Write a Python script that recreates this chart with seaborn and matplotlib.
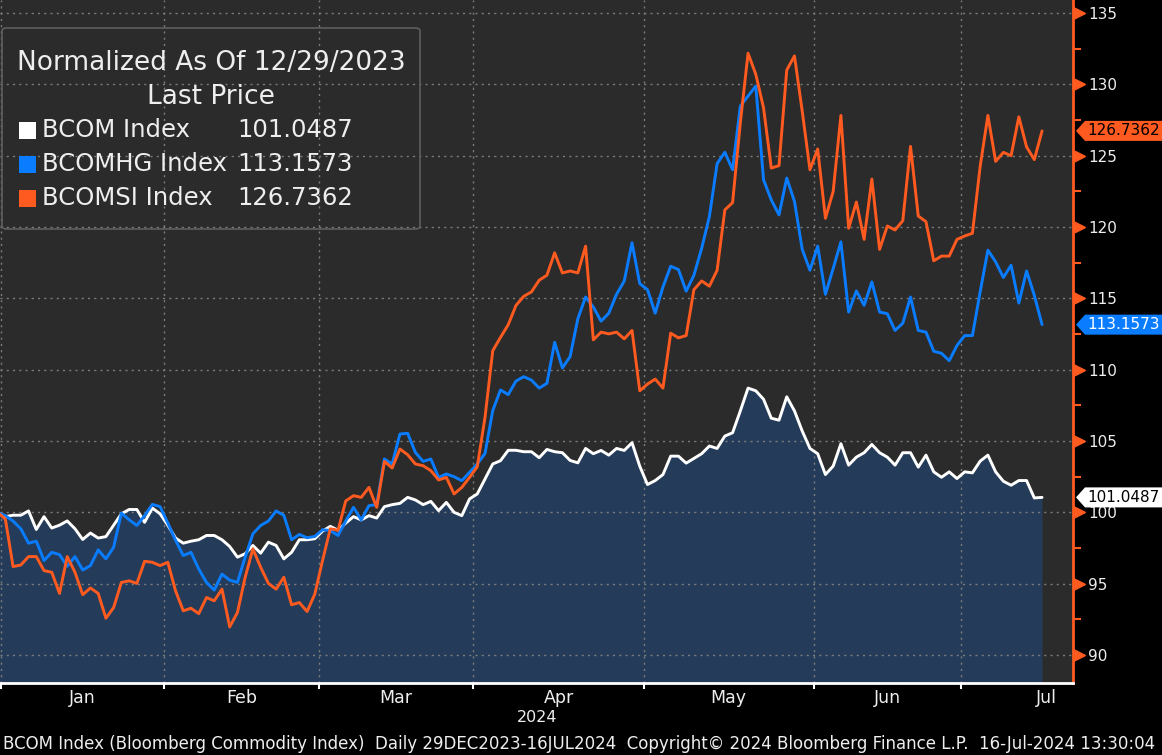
# ==========================================
# BCOM vs BCOMHG vs BCOMSI (normalized)
# ==========================================

import numpy as np
import pandas as pd
import matplotlib
matplotlib.use("Agg")
import matplotlib.pyplot as plt
import matplotlib.transforms as mtransforms
from matplotlib.patches import Polygon, FancyBboxPatch, Rectangle
import seaborn as sns

# ==========================================
# DATA
# ==========================================

holidays = ["2024-01-01", "2024-01-15", "2024-02-19", "2024-03-29",
            "2024-05-27", "2024-06-19", "2024-07-04"]
dates = pd.bdate_range("2023-12-29", "2024-07-16", freq="C", holidays=holidays)
dates_full = pd.bdate_range("2023-12-29", "2024-07-31", freq="C", holidays=holidays)

bcom = [
    100.00, 99.70, 99.80, 99.80, 100.10, 98.80, 99.70, 98.90, 99.10, 99.40,
    98.85, 98.10, 98.55, 98.20, 98.30, 99.10, 99.90, 100.20, 100.20, 99.30,
    100.30, 99.90, 99.10, 98.20, 97.84, 97.98, 98.08, 98.38, 98.38, 98.08,
    97.61, 96.86, 97.10, 97.68, 97.14, 97.91, 97.68, 96.74, 97.20, 98.08,
    98.08, 98.15, 98.69, 99.02, 98.75, 99.25, 99.70, 99.47, 99.77, 99.60,
    100.40, 100.54, 100.63, 101.05, 100.87, 100.54, 100.77, 100.12, 100.70, 100.00,
    99.77, 100.94, 101.29, 102.34, 103.39, 103.62, 104.35, 104.35, 104.25, 104.25,
    103.83, 104.41, 104.25, 104.18, 103.64, 103.47, 104.48, 104.11, 104.34, 104.01,
    104.48, 104.34, 104.88, 103.24, 101.95, 102.23, 102.65, 103.94, 103.94, 103.45,
    103.78, 104.11, 104.65, 104.48, 105.35, 105.58, 107.11, 108.71, 108.52, 107.93,
    106.60, 106.46, 108.10, 107.11, 105.70, 104.48, 104.11, 102.65, 103.24, 104.81,
    103.31, 103.87, 104.18, 104.76, 104.18, 103.87, 103.31, 104.18, 104.18, 103.17,
    104.01, 102.84, 102.46, 102.84, 102.37, 102.84, 102.77, 103.59, 104.01, 102.84,
    102.18, 101.90, 102.23, 102.23, 101.01, 101.0487,
]

bcomhg = [
    100.00, 99.77, 99.39, 98.85, 97.84, 97.98, 96.62, 97.20, 97.04, 96.22,
    96.90, 95.96, 96.27, 97.37, 96.74, 97.56, 99.95, 99.48, 99.08, 99.77,
    100.56, 100.40, 99.25, 98.05, 96.97, 97.20, 96.03, 95.09, 94.55, 95.67,
    95.25, 95.09, 96.86, 98.50, 99.08, 99.39, 100.10, 99.79, 98.08, 98.45,
    98.22, 98.31, 98.78, 98.73, 98.38, 99.40, 100.35, 99.47, 100.47, 100.54,
    103.74, 103.39, 105.49, 105.54, 104.20, 103.57, 103.74, 102.45, 102.69, 102.50,
    102.22, 102.80, 103.39, 104.13, 107.13, 108.58, 108.25, 109.20, 109.51, 109.27,
    108.71, 109.04, 111.92, 110.12, 110.92, 113.57, 115.09, 114.39, 113.40, 113.96,
    115.28, 116.22, 118.90, 116.03, 115.61, 113.96, 115.80, 117.25, 117.02, 115.50,
    116.62, 118.50, 120.73, 124.44, 125.24, 124.01, 128.47, 129.18, 129.88, 123.31,
    121.90, 120.85, 123.43, 121.79, 118.43, 116.97, 118.66, 115.28, 117.09, 118.96,
    114.04, 115.52, 114.51, 116.15, 114.04, 113.92, 112.75, 113.26, 115.09, 112.75,
    112.63, 111.29, 111.15, 110.63, 111.69, 112.39, 112.39, 115.45, 118.38, 117.56,
    116.46, 117.32, 114.67, 116.92, 115.21, 113.1573,
]

bcomsi = [
    100.00, 99.53, 96.20, 96.31, 96.90, 96.90, 95.92, 95.80, 94.32, 96.90,
    95.80, 94.23, 94.70, 94.32, 92.58, 93.33, 95.09, 95.20, 95.02, 96.57,
    96.50, 96.27, 96.50, 94.50, 93.10, 93.28, 92.90, 94.03, 93.80, 94.62,
    91.97, 92.98, 95.45, 97.44, 96.15, 95.02, 94.62, 95.45, 93.52, 93.68,
    93.05, 94.27, 96.62, 98.85, 98.75, 100.80, 101.17, 101.05, 101.75, 100.35,
    103.57, 103.11, 104.44, 104.04, 103.39, 103.27, 102.92, 102.27, 102.45, 101.29,
    101.75, 102.45, 103.20, 106.66, 111.33, 112.26, 113.15, 114.50, 115.14, 115.45,
    116.27, 116.62, 118.19, 116.78, 116.92, 116.78, 118.66, 112.09, 112.63, 112.51,
    112.63, 112.16, 112.75, 108.52, 108.99, 109.34, 108.71, 112.56, 112.23, 112.39,
    115.61, 116.22, 115.85, 116.97, 121.20, 121.71, 127.30, 132.18, 130.70, 128.36,
    124.13, 124.30, 131.00, 131.99, 128.12, 124.01, 125.47, 120.61, 122.49, 127.82,
    119.91, 121.75, 119.13, 123.36, 118.43, 120.07, 119.79, 120.44, 125.65, 120.77,
    120.37, 117.63, 117.96, 117.96, 119.13, 119.37, 119.56, 124.25, 127.82, 124.60,
    125.23, 125.00, 127.72, 125.61, 124.72, 126.7362,
]

series_names = ["BCOM Index", "BCOMHG Index", "BCOMSI Index"]
month_labels = ["Jan", "Feb", "Mar", "Apr", "May", "Jun", "Jul"]
y_ticks = np.arange(90, 136, 5)

title_line1 = "Normalized As Of 12/29/2023"
title_line2 = "Last Price"
footer = ("BCOM Index (Bloomberg Commodity Index)  Daily 29DEC2023-16JUL2024  "
          "Copyright\u00a9 2024 Bloomberg Finance L.P.  16-Jul-2024 13:30:04")

# ==========================================
# PREPARE
# ==========================================

df = pd.DataFrame({
    "day": np.arange(len(dates)),
    "BCOM Index": bcom,
    "BCOMHG Index": bcomhg,
    "BCOMSI Index": bcomsi,
})
long_df = df.melt(id_vars="day", var_name="series", value_name="value")

# month boundaries on the trading-day axis
month_start = np.flatnonzero(np.r_[True, dates_full.month[1:] != dates_full.month[:-1]])
boundaries = np.r_[month_start[1:], len(dates_full)] - 0.5
label_pos = (boundaries[:-1] + boundaries[1:]) / 2
tick_pos = boundaries[:-1]

# ==========================================
# STYLE
# ==========================================

sns.set_theme(style="dark")
plt.rcParams["font.family"] = ["DejaVu Sans"]

colors = {"BCOM Index": "#ffffff", "BCOMHG Index": "#0a7cff", "BCOMSI Index": "#ff5a1f"}
tag_text = {"BCOM Index": "black", "BCOMHG Index": "white", "BCOMSI Index": "black"}
orange = "#ff5a1f"
bg_color = "#2b2b2b"
fill_color = "#243c59"
grid_color = "#7c7c7c"
text_color = "#eeeeee"

W, H = 1162, 755
x_lim = (0.31, 139.0)
y_lim = (88.04, 135.91)

# ==========================================
# PLOT
# ==========================================

fig = plt.figure(figsize=(W / 100, H / 100), dpi=100, facecolor="black")
ax = fig.add_axes([0.0, 72 / H, 1073 / W, 683 / H])
ax.set_facecolor(bg_color)
ax.set_axisbelow(True)

ax.fill_between(df["day"], df["BCOM Index"], y_lim[0], color=fill_color,
                linewidth=0, zorder=0.3)

sns.lineplot(data=long_df, x="day", y="value", hue="series",
             hue_order=series_names, palette=colors, linewidth=2.1,
             legend=False, ax=ax, zorder=3)

ax.set_xlim(*x_lim)
ax.set_ylim(*y_lim)
ax.set_xlabel("")
ax.set_ylabel("")

# x axis
ax.set_xticks(tick_pos)
ax.set_xticklabels([])
ax.set_xticks(label_pos, minor=True)
ax.set_xticklabels(month_labels, minor=True)
ax.tick_params(axis="x", which="major", length=4, width=1.5, color="white",
               direction="out", bottom=True)
ax.tick_params(axis="x", which="minor", length=0, pad=4, labelsize=12.5,
               labelcolor=text_color, bottom=True)

# y axis on the right
ax.yaxis.tick_right()
ax.set_yticks(y_ticks)
ax.set_yticks(y_ticks[:-1] + 2.5, minor=True)
ax.tick_params(axis="y", which="major", length=0, pad=11, labelsize=11,
               labelcolor=text_color, right=True, left=False)
ax.tick_params(axis="y", which="minor", length=6, width=1.5, color=orange,
               right=True, left=False, direction="out")

tri_trans = mtransforms.blended_transform_factory(ax.transAxes, ax.transData)
ax.plot(np.full(len(y_ticks), 1.0056), y_ticks, linestyle="none", marker=">",
        markersize=9, color=orange, transform=tri_trans, clip_on=False, zorder=6)

ax.grid(axis="both", which="major", color=grid_color, linestyle=(0, (1.5, 3)),
        linewidth=1)
ax.grid(axis="x", which="minor", visible=False)

for side in ["left", "top"]:
    ax.spines[side].set_visible(False)
ax.spines["right"].set_color(orange)
ax.spines["right"].set_linewidth(2)
ax.spines["bottom"].set_color("white")
ax.spines["bottom"].set_linewidth(2)
ax.spines["bottom"].set_visible(True)
ax.spines["right"].set_visible(True)

# last value tags
tag_trans = mtransforms.blended_transform_factory(fig.transFigure, ax.transData)
half = 10 / 14.267
for name in series_names:
    last = df[name].iloc[-1]
    pts = [(1076 / W, last), (1085 / W, last + half), (1.0, last + half),
           (1.0, last - half), (1085 / W, last - half)]
    ax.add_patch(Polygon(pts, closed=True, transform=tag_trans,
                         facecolor=colors[name], edgecolor="none",
                         clip_on=False, zorder=7))
    ax.text(1087 / W, last, f"{last:.4f}", transform=tag_trans, ha="left",
            va="center", fontsize=11, color=tag_text[name], clip_on=False,
            zorder=8)

# ==========================================
# LEGEND BOX
# ==========================================

fig.add_artist(FancyBboxPatch((2 / W, 1 - 229 / H), 418 / W, 201 / H,
                              boxstyle="round,pad=0,rounding_size=0.004",
                              transform=fig.transFigure, facecolor="none",
                              edgecolor="#5e5e5e", linewidth=1.2))
fig.text(211 / W, 1 - 63 / H, title_line1, ha="center", va="center",
         fontsize=19, color=text_color)
fig.text(211 / W, 1 - 97 / H, title_line2, ha="center", va="center",
         fontsize=19, color=text_color)

row_y = [130, 164, 198]
for name, yc in zip(series_names, row_y):
    fig.add_artist(Rectangle((19 / W, 1 - (yc + 8.5) / H), 17 / W, 17 / H,
                             transform=fig.transFigure, facecolor=colors[name],
                             edgecolor="none"))
    fig.text(42 / W, 1 - yc / H, name, ha="left", va="center",
             fontsize=17.5, color=text_color)
    fig.text(237 / W, 1 - yc / H, f"{df[name].iloc[-1]:.4f}", ha="left",
             va="center", fontsize=17.5, color=text_color)

# ==========================================
# FOOTER
# ==========================================

fig.text(537 / W, 1 - 717 / H, "2024", ha="center", va="center",
         fontsize=11.5, color=text_color)
fig.text(3 / W, 1 - 744 / H, footer, ha="left", va="center",
         fontsize=12, color=text_color)

fig.savefig("out.png", dpi=100, facecolor="black")
print("Saved out.png")
